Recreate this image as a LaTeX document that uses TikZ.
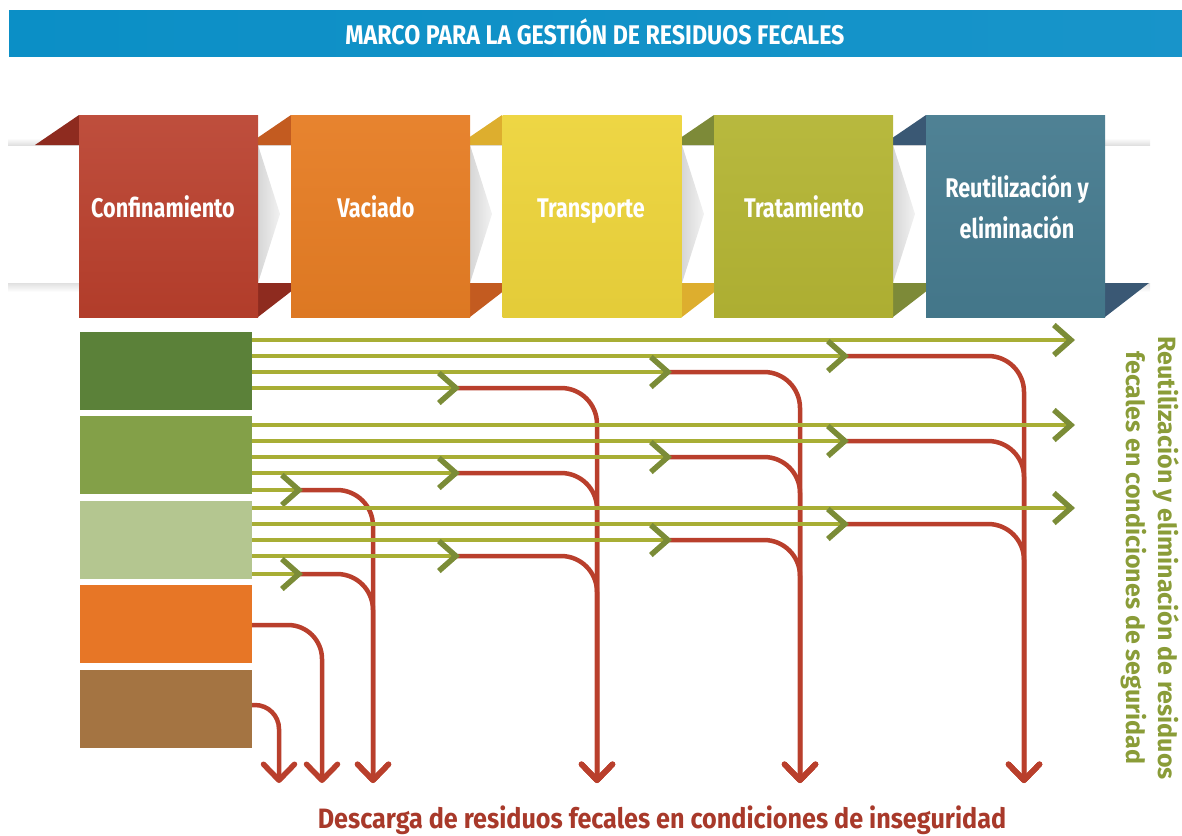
\documentclass[tikz,border=0pt]{standalone}
\usepackage{fontspec}
\setmainfont{Fira Sans}
\newfontfamily\condfont[FakeStretch=0.8]{Fira Sans}
\newfontfamily\titlefont[FakeStretch=0.86]{Fira Sans}
\newfontfamily\spillfont[FakeStretch=0.9]{Fira Sans}
\usetikzlibrary{arrows.meta,positioning}

\definecolor{bannerblue}{HTML}{0B8FC6}
\definecolor{bannerlight}{HTML}{4BAAD8}
\definecolor{confred}{HTML}{B93F2C}
\definecolor{confdark}{HTML}{8E2B1F}
\definecolor{vacorange}{HTML}{E67D24}
\definecolor{vacdark}{HTML}{C35B20}
\definecolor{transyellow}{HTML}{EDD43B}
\definecolor{transdark}{HTML}{DDAE2E}
\definecolor{tratolive}{HTML}{B4B534}
\definecolor{tratdark}{HTML}{7D8A38}
\definecolor{reuteal}{HTML}{467B8F}
\definecolor{reudark}{HTML}{3A5874}
\definecolor{srcdark}{HTML}{5B8139}
\definecolor{srcmid}{HTML}{83A048}
\definecolor{srcpale}{HTML}{B4C690}
\definecolor{srcorange}{HTML}{E77626}
\definecolor{srcbrown}{HTML}{A47442}
\definecolor{lineolive}{HTML}{A8AE35}
\definecolor{arrowgreen}{HTML}{7B8C37}
\definecolor{spillred}{HTML}{B93F2C}
\definecolor{spilltext}{HTML}{A8392A}
\definecolor{safegreen}{HTML}{8A9C38}

\tikzset{
  stage/.style={rectangle, minimum width=179pt, minimum height=202pt, inner sep=0pt},
  stagetext/.style={text=white, font=\condfont\bfseries\fontsize{27}{41}\selectfont, align=center, inner sep=0pt},
  source/.style={rectangle, minimum width=172pt, minimum height=78pt, inner sep=0pt},
  goes/.style={draw=lineolive, line width=4.5pt, -{Straight Barb[length=17pt,width=30pt,line width=5.5pt,color=arrowgreen]}},
  spill/.style={draw=spillred, line width=4.5pt, rounded corners=36pt, -{Straight Barb[length=16pt,width=31pt,line width=5.5pt,round]}}
}

\begin{document}
\begin{tikzpicture}[x=1pt,y=-1pt]
\useasboundingbox (0,0) rectangle (1182,835);

\shade[left color=bannerblue, middle color=bannerlight, right color=bannerblue!80!bannerlight] (9,10) rectangle (1182,56);
\node[font=\titlefont\bfseries\fontsize{27}{30}\selectfont, text=white, anchor=base] (title) at (595,44) {MARCO PARA LA GESTIÓN DE RESIDUOS FECALES};

\shade[top color=white, bottom color=black!12] (8,138) rectangle (1150,145);
\shade[top color=black!12, bottom color=white] (8,283) rectangle (1150,292);
\foreach \r in {258,470,682,893}
  \shade[left color=black!16, right color=black!5] (\r,145) -- (\r+22,214) -- (\r,283) -- cycle;
\foreach \l/\c in {79/confdark,291/vacdark,502/transdark,714/tratdark,926/reudark}
  \fill[\c] (\l-44,145) -- (\l,115) -- (\l,145) -- cycle;
\foreach \r/\c in {258/confdark,470/vacdark,682/transdark,893/tratdark,1105/reudark}
  \fill[\c] (\r,283) -- (\r+44,283) -- (\r,317) -- cycle;

\begin{scope}[every node/.style={stage}]
  \node[top color=confred!92!white, bottom color=confred!96!black] (conf) at (168.5,216) {};
  \node[top color=vacorange!95!white, bottom color=vacorange!96!black] (vac) at (380.5,216) {};
  \node[top color=transyellow!95!white, bottom color=transyellow!96!black] (trans) at (592,216) {};
  \node[top color=tratolive!95!white, bottom color=tratolive!96!black] (trat) at (803.5,216) {};
  \node[top color=reuteal!95!white, bottom color=reuteal!96!black] (reu) at (1015.5,216) {};
\end{scope}

\begin{scope}[every node/.style={stagetext}]
  \node[anchor=base] (conf-t) at (163,217) {Confinamiento};
  \node[anchor=base] (vac-t) at (376,217) {Vaciado};
  \node[anchor=base] (trans-t) at (591,217) {Transporte};
  \node[anchor=base] (trat-t) at (804,217) {Tratamiento};
  \node (reu-t) at (1017,207) {Reutilización y\\eliminación};
\end{scope}

\begin{scope}[every node/.style={source}]
  \node[fill=srcdark] (a) at (166,371) {};
  \node[fill=srcmid] (b) at (166,455) {};
  \node[fill=srcpale] (c) at (166,540) {};
  \node[fill=srcorange] (d) at (166,624) {};
  \node[fill=srcbrown] (e) at (166,709) {};
\end{scope}

\foreach \y/\t/\v in {356/849/1024,372/672/800,388/460/597,441/849/1024,457/672/800,473/460/597,490/303/373,524/849/1024,540/672/800,556/460/597,574/303/373}
  \draw[spill] (\t-3,\y) -- (\v,\y) -- (\v,783);
\draw[spill, rounded corners=34pt] (d.east |- 0,625) -- (322,625) -- (322,783);
\draw[spill, rounded corners=24pt] (e.east |- 0,705) -- (279,705) -- (279,783);

\foreach \src/\y/\t in {a/340/1075,a/356/849,a/372/672,a/388/460,b/425/1075,b/441/849,b/457/672,b/473/460,b/490/303,c/508/1075,c/524/849,c/540/672,c/556/460,c/574/303}
  \draw[goes] (\src.east |- 0,\y) -- (\t,\y);

\node[font=\spillfont\bfseries\fontsize{28}{30}\selectfont, text=spilltext, anchor=base] (unsafe) at (662,828) {Descarga de residuos fecales en condiciones de inseguridad};
\node[font=\bfseries\fontsize{25}{32}\selectfont, text=safegreen, align=center, rotate=-90] (safe) at (1150,558) {Reutilización y eliminación de residuos\\fecales en condiciones de seguridad};
\end{tikzpicture}
\end{document}
